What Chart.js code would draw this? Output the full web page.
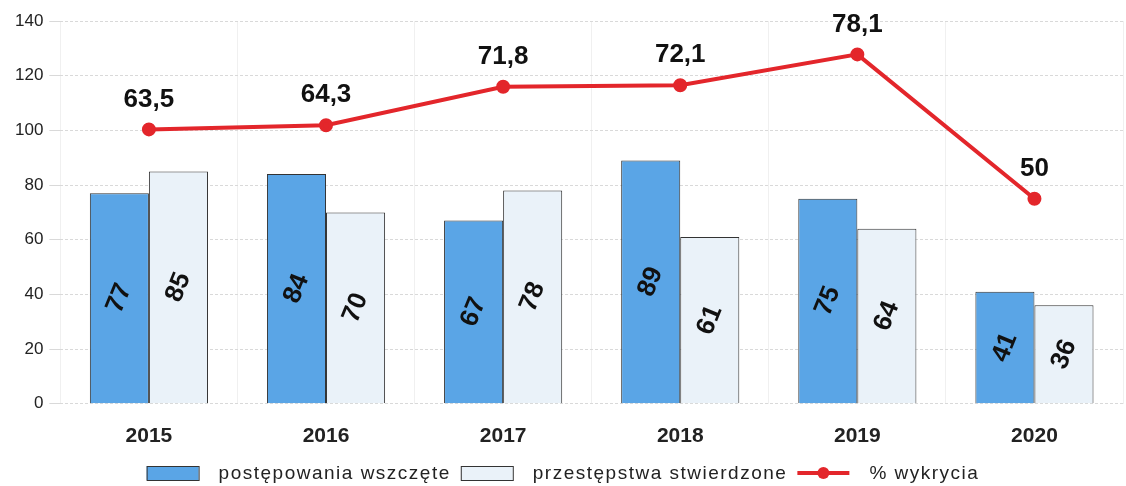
<!DOCTYPE html>
<html>
<head>
<meta charset="utf-8">
<script src="https://cdn.jsdelivr.net/npm/chart.js@4/dist/chart.umd.min.js"></script>
<style>
  html, body { margin: 0; padding: 0; background: #fff; }
  #wrap { width: 1126px; height: 486px; }
</style>
</head>
<body>
<div id="wrap"><canvas id="chart" width="1126" height="486"></canvas></div>
<script>
// dane z wykresu
const years = ['2015', '2016', '2017', '2018', '2019', '2020'];
const wszczete = [77, 84, 67, 89, 75, 41];
const stwierdzone = [85, 70, 78, 61, 64, 36];
const wykrycie = [63.5, 64.3, 71.8, 72.1, 78.1, 50];
const yTicks = [0, 20, 40, 60, 80, 100, 120, 140];

const FONT = '"Liberation Sans", Arial, sans-serif';

// etykiety wartości na słupkach i na linii
const valueLabels = {
  id: 'valueLabels',
  afterDatasetsDraw(chart) {
    const ctx = chart.ctx;
    ctx.save();
    ctx.fillStyle = '#111';
    ctx.textAlign = 'center';
    ctx.textBaseline = 'middle';
    chart.data.datasets.forEach((ds, i) => {
      const meta = chart.getDatasetMeta(i);
      meta.data.forEach((el, j) => {
        if (ds.type === 'line') {
          ctx.font = 'bold 26px ' + FONT;
          ctx.fillText(String(ds.data[j]).replace('.', ','), el.x, el.y - 30);
        } else {
          const cy = (el.y + el.base) / 2;
          ctx.save();
          ctx.translate(el.x, cy);
          ctx.rotate(-68 * Math.PI / 180);
          ctx.font = 'bold 26px ' + FONT;
          ctx.fillText(String(ds.data[j]), 0, 0);
          ctx.restore();
        }
      });
    });
    ctx.restore();
  }
};

// legenda rysowana ręcznie (prostokąty + linia z punktem)
const bottomLegend = {
  id: 'bottomLegend',
  afterDraw(chart) {
    const ctx = chart.ctx;
    ctx.save();
    ctx.font = '19px ' + FONT;
    ctx.letterSpacing = '1.5px';
    ctx.textBaseline = 'middle';
    const y = 473;
    const items = chart.data.datasets.map(ds => ({
      label: ds.label,
      w: 72 + ctx.measureText(ds.label).width,
      ds: ds
    }));
    const gap = 10;
    let total = items.reduce((s, it) => s + it.w, 0) + gap * (items.length - 1);
    let x = (chart.width - total) / 2;
    items.forEach(it => {
      const ds = it.ds;
      if (ds.type === 'line') {
        ctx.strokeStyle = ds.borderColor;
        ctx.lineWidth = 4;
        ctx.beginPath();
        ctx.moveTo(x, y);
        ctx.lineTo(x + 52, y);
        ctx.stroke();
        ctx.fillStyle = ds.pointBackgroundColor;
        ctx.beginPath();
        ctx.arc(x + 26, y, 6, 0, Math.PI * 2);
        ctx.fill();
      } else {
        ctx.fillStyle = ds.backgroundColor;
        ctx.fillRect(x, y - 7, 52, 14);
        ctx.strokeStyle = '#333';
        ctx.lineWidth = 1;
        ctx.strokeRect(x + 0.5, y - 6.5, 52, 14);
      }
      ctx.fillStyle = '#222';
      ctx.fillText(it.label, x + 72, y + 1);
      x += it.w + gap;
    });
    ctx.restore();
  }
};

new Chart(document.getElementById('chart').getContext('2d'), {
  data: {
    labels: years,
    datasets: [
      {
        type: 'bar',
        label: 'postępowania wszczęte',
        data: wszczete,
        yAxisID: 'y',
        backgroundColor: '#5aa5e6',
        borderColor: '#333',
        borderWidth: 1,
        order: 1
      },
      {
        type: 'bar',
        label: 'przestępstwa stwierdzone',
        data: stwierdzone,
        yAxisID: 'y',
        backgroundColor: '#eaf2f9',
        borderColor: '#333',
        borderWidth: 1,
        order: 1
      },
      {
        type: 'line',
        label: '% wykrycia',
        data: wykrycie,
        yAxisID: 'y1',
        borderColor: '#e3262b',
        backgroundColor: '#e3262b',
        pointBackgroundColor: '#e3262b',
        pointBorderColor: '#e3262b',
        borderWidth: 4,
        pointRadius: 5,
        tension: 0,
        order: 0
      }
    ]
  },
  options: {
    responsive: false,
    animation: false,
    datasets: {
      bar: { barPercentage: 1, categoryPercentage: 0.667 }
    },
    layout: { autoPadding: false, padding: { top: 21, right: 3, bottom: 17, left: 9 } },
    plugins: {
      legend: { display: false },
      tooltip: { enabled: false }
    },
    scales: {
      x: {
        afterFit: axis => { axis.paddingLeft = 0; axis.paddingRight = 0; },
        grid: { display: true, color: '#f0f0f0', drawTicks: false },
        border: { display: false },
        ticks: { color: '#222', font: { family: FONT, size: 21, weight: 'bold' }, padding: 20 }
      },
      y: {
        min: 0,
        max: 140,
        afterBuildTicks: axis => { axis.ticks = yTicks.map(v => ({ value: v })); },
        grid: { color: '#d9d9d9', tickLength: 11, tickColor: '#d9d9d9' },
        border: { display: false, dash: [3, 2] },
        ticks: { color: '#222', font: { family: FONT, size: 17 }, padding: 6 }
      },
      y1: {
        display: false,
        min: 10.1,
        max: 84.6
      }
    }
  },
  plugins: [valueLabels, bottomLegend]
});
</script>
</body>
</html>
